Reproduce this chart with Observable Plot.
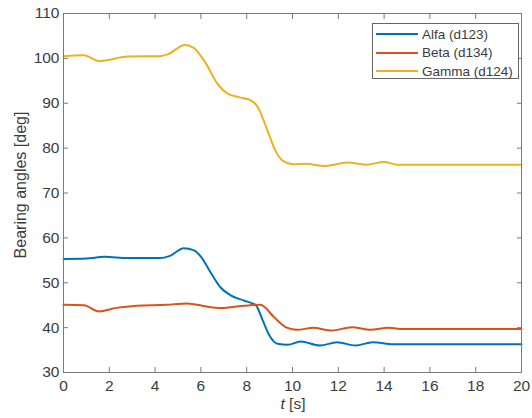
<!DOCTYPE html>
<html><head><meta charset="utf-8">
<script src="https://cdn.jsdelivr.net/npm/d3@7"></script>
<script src="https://cdn.jsdelivr.net/npm/@observablehq/plot@0.6"></script>
<style>
body{margin:0;background:#fff;}
#wrap{position:relative;width:532px;height:418px;font-family:"Liberation Sans",Arial,sans-serif;color:#3c3c3c;}
#legend{position:absolute;left:372px;top:23px;width:145px;height:54px;border:1px solid #666;background:#fff;box-sizing:content-box;}
.row{position:absolute;left:3px;height:18px;display:flex;align-items:center;font-size:13.5px;white-space:nowrap;}
.sw{width:42px;height:0;border-top:2px solid;margin-right:4px;}
#xlabel{position:absolute;left:0;width:532px;padding-left:54px;box-sizing:border-box;text-align:center;top:395px;font-size:15.5px;}
</style></head>
<body><div id="wrap"><div id="legend"></div><div id="xlabel"><i>t</i> [s]</div></div>
<script>
const xTicks = [0,2,4,6,8,10,12,14,16,18,20];
const yTicks = [30,40,50,60,70,80,90,100,110];
const seriesNames = ["Alfa (d123)","Beta (d134)","Gamma (d124)"];
const colors = ["#0072BD","#D95319","#EDB120"];

const tAlfa = [0,1.0,1.8,2.8,4.2,4.65,5.25,5.7,6.0,6.4,6.85,7.3,7.9,8.4,8.7,9.0,9.35,9.8,10.35,11.2,11.95,12.75,13.5,14.4,16,20];
const alfa  = [55.3,55.4,55.8,55.5,55.5,56.0,57.7,57.2,55.8,52.5,49.0,47.2,46.0,45.0,41.6,38.2,36.4,36.2,36.9,36.0,36.75,36.0,36.75,36.3,36.3,36.3];

const tBeta = [0,0.9,1.55,2.3,3.2,4.5,5.4,6.25,6.85,7.9,8.6,9.2,9.75,10.2,10.9,11.7,12.6,13.4,14.2,14.7,16,20];
const beta  = [45.1,45.0,43.6,44.4,44.9,45.1,45.4,44.7,44.4,44.9,45.1,42.3,40.0,39.5,39.95,39.35,40.1,39.5,40.0,39.7,39.7,39.7];

const tGamma = [0,0.9,1.55,1.9,2.8,4.2,4.55,5.3,5.7,6.25,6.7,7.15,7.7,8.2,8.5,8.9,9.25,9.6,10.0,10.6,11.4,12.4,13.2,14.0,14.6,16,18,20];
const gamma  = [100.5,100.7,99.4,99.6,100.4,100.5,100.9,103.0,102.3,98.6,94.5,92.2,91.3,90.6,89.0,84.0,79.5,77.1,76.4,76.5,76.0,76.8,76.3,76.9,76.3,76.3,76.3,76.3];

const rows = [];
[[tAlfa,alfa],[tBeta,beta],[tGamma,gamma]].forEach(([ts,vs],i)=>{
  ts.forEach((t,j)=>rows.push({t, v:vs[j], s:seriesNames[i]}));
});

const axisColor = "#7a7a7a";
const chart = Plot.plot({
  width:532, height:418, marginLeft:63, marginRight:11, marginTop:13, marginBottom:46,
  style:{fontFamily:"Liberation Sans, Arial, sans-serif", fontSize:"15.5px", color:"#3c3c3c", background:"transparent"},
  x:{domain:[0,20]},
  y:{domain:[30,110]},
  color:{domain:seriesNames, range:colors},
  marks:[
    Plot.line(rows,{x:"t", y:"v", z:"s", stroke:"s", strokeWidth:2, curve:"monotone-x"}),
    Plot.frame({stroke:axisColor}),
    Plot.axisX({anchor:"bottom", ticks:xTicks, tickSize:-5, text:null, label:null, stroke:axisColor}),
    Plot.axisX({anchor:"top", ticks:xTicks, tickSize:-5, text:null, label:null, stroke:axisColor}),
    Plot.axisY({anchor:"left", ticks:yTicks, tickSize:-5, text:null, label:null, stroke:axisColor}),
    Plot.axisY({anchor:"right", ticks:yTicks, tickSize:-5, text:null, label:null, stroke:axisColor}),
    Plot.axisX({anchor:"bottom", ticks:xTicks, tickSize:0, tickPadding:7, label:null}),
    Plot.axisY({anchor:"left", ticks:yTicks, tickSize:0, tickPadding:4, label:null}),
    Plot.text(["Bearing angles [deg]"],{frameAnchor:"left", textAnchor:"middle", lineAnchor:"middle", rotate:-90, dx:-43, dy:-8, text:d=>d, fontSize:16, fill:"#3c3c3c"})
  ]
});
const wrap = document.getElementById("wrap");
wrap.insertBefore(chart, wrap.firstChild);
chart.style.position="absolute"; chart.style.left="0"; chart.style.top="0";

const leg = document.getElementById("legend");
seriesNames.forEach((n,i)=>{
  const r = document.createElement("div");
  r.className="row"; r.style.top=(1+i*18.5)+"px";
  r.innerHTML = `<span class="sw" style="border-color:${colors[i]}"></span><span>${n}</span>`;
  leg.appendChild(r);
});
</script></body></html>
